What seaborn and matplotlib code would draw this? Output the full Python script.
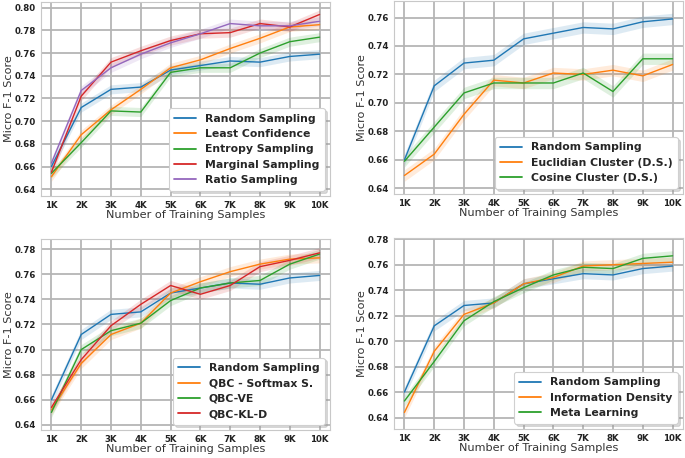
import numpy as np
import pandas as pd
import matplotlib
matplotlib.use("Agg")
import matplotlib.pyplot as plt
import seaborn as sns

# dados
amostras = ["1K", "2K", "3K", "4K", "5K", "6K", "7K", "8K", "9K", "10K"]

random_sampling = [0.660, 0.712, 0.728, 0.730, 0.745, 0.749, 0.753, 0.752, 0.757, 0.759]

least_confidence = [0.651, 0.688, 0.710, 0.728, 0.747, 0.754, 0.764, 0.773, 0.783, 0.785]
entropy_sampling = [0.654, 0.681, 0.709, 0.708, 0.743, 0.747, 0.747, 0.760, 0.770, 0.774]
marginal_sampling = [0.655, 0.722, 0.752, 0.762, 0.771, 0.777, 0.778, 0.786, 0.783, 0.794]
ratio_sampling = [0.663, 0.727, 0.747, 0.759, 0.769, 0.777, 0.786, 0.784, 0.784, 0.788]

euclidian_cluster = [0.649, 0.664, 0.692, 0.716, 0.714, 0.721, 0.720, 0.723, 0.719, 0.727]
cosine_cluster = [0.659, 0.683, 0.707, 0.714, 0.714, 0.714, 0.721, 0.708, 0.731, 0.731]

qbc_softmax = [0.652, 0.689, 0.712, 0.721, 0.745, 0.754, 0.762, 0.768, 0.772, 0.773]
qbc_ve = [0.650, 0.700, 0.715, 0.721, 0.739, 0.749, 0.753, 0.755, 0.768, 0.776]
qbc_kld = [0.654, 0.692, 0.719, 0.736, 0.751, 0.744, 0.751, 0.766, 0.771, 0.777]

info_density = [0.644, 0.692, 0.721, 0.730, 0.745, 0.750, 0.759, 0.760, 0.761, 0.762]
meta_learning = [0.653, 0.684, 0.716, 0.731, 0.742, 0.752, 0.758, 0.757, 0.765, 0.767]

banda = 0.004  # meia largura da faixa sombreada

paineis = [
    ({"Random Sampling": random_sampling, "Least Confidence": least_confidence,
      "Entropy Sampling": entropy_sampling, "Marginal Sampling": marginal_sampling,
      "Ratio Sampling": ratio_sampling},
     (0.634, 0.805), [0.64, 0.66, 0.68, 0.70, 0.72, 0.74, 0.76, 0.78, 0.80]),
    ({"Random Sampling": random_sampling, "Euclidian Cluster (D.S.)": euclidian_cluster,
      "Cosine Cluster (D.S.)": cosine_cluster},
     (0.636, 0.7716), [0.64, 0.66, 0.68, 0.70, 0.72, 0.74, 0.76]),
    ({"Random Sampling": random_sampling, "QBC - Softmax S.": qbc_softmax,
      "QBC-VE": qbc_ve, "QBC-KL-D": qbc_kld},
     (0.636, 0.788), [0.64, 0.66, 0.68, 0.70, 0.72, 0.74, 0.76, 0.78]),
    ({"Random Sampling": random_sampling, "Information Density": info_density,
      "Meta Learning": meta_learning},
     (0.631, 0.781), [0.64, 0.66, 0.68, 0.70, 0.72, 0.74, 0.76, 0.78]),
]

posicoes = [
    [41 / 685, 1 - 196 / 458, 289 / 685, 194 / 458],
    [394 / 685, 1 - 194 / 458, 289 / 685, 193 / 458],
    [41 / 685, 1 - 430 / 458, 289 / 685, 191 / 458],
    [394 / 685, 1 - 429 / 458, 289 / 685, 191 / 458],
]

sns.set_theme(style="whitegrid")
plt.rcParams["font.family"] = ["DejaVu Sans"]
cores = sns.color_palette("tab10")

fig = plt.figure(figsize=(6.85, 4.58), dpi=100)

for (series, ylim, yticks), pos in zip(paineis, posicoes):
    ax = fig.add_axes(pos)
    linhas = []
    for nome, valores in series.items():
        for a, v in zip(amostras, valores):
            linhas.append({"amostra": a, "f1": v, "metodo": nome})
    df = pd.DataFrame(linhas)
    sns.lineplot(data=df, x="amostra", y="f1", hue="metodo", palette=cores[:len(series)],
                 linewidth=1.0, ax=ax, sort=False)
    xs = np.arange(len(amostras))
    for i, valores in enumerate(series.values()):
        v = np.array(valores)
        ax.fill_between(xs, v - banda, v + banda, color=cores[i], alpha=0.15, linewidth=0)
    ax.set_xlim(-0.35, len(amostras) - 1 + 0.35)
    ax.set_ylim(*ylim)
    ax.set_yticks(yticks)
    ax.set_yticklabels([f"{t:.2f}" for t in yticks])
    ax.set_xlabel("Number of Training Samples", fontsize=8.1, labelpad=0, color="#333333")
    ax.set_ylabel("Micro F-1 Score", fontsize=8.1, labelpad=0.5, color="#333333")
    ax.tick_params(axis="both", labelsize=6.2, pad=1, length=2.5, width=0.8,
                   color="#444444", labelcolor="#222222")
    for lbl in ax.get_xticklabels() + ax.get_yticklabels():
        lbl.set_fontweight("bold")
    ax.grid(True, color="#b5b5b5", linewidth=1.3)
    for s in ax.spines.values():
        s.set_color("#c8c8c8")
        s.set_linewidth(0.8)
    leg = ax.legend(loc="lower right", prop={"weight": "bold", "size": 7.8},
                    handlelength=2.0, frameon=True, borderpad=0.5, labelspacing=0.5,
                    fancybox=True, shadow={"color": "#999999", "alpha": 0.35},
                    framealpha=1.0, borderaxespad=0.5)
    leg.get_frame().set_edgecolor("#d0d0d0")
    leg.get_frame().set_linewidth(0.8)
    for h in leg.get_lines():
        h.set_linewidth(1.3)

fig.savefig("out.png", dpi=100)
